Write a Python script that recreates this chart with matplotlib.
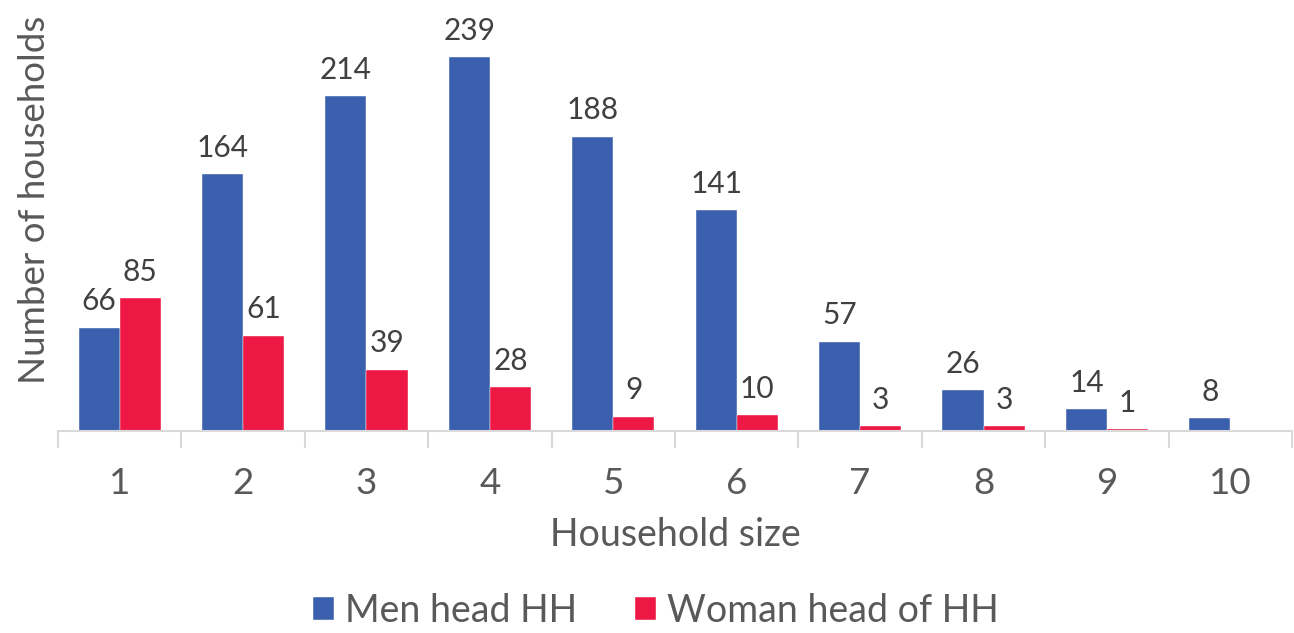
import matplotlib.pyplot as plt
import numpy as np

plt.rcParams['font.family'] = ['Lato', 'DejaVu Sans']

sizes = ['1', '2', '3', '4', '5', '6', '7', '8', '9', '10']
men = [66, 164, 214, 239, 188, 141, 57, 26, 14, 8]
women = [85, 61, 39, 28, 9, 10, 3, 3, 1, 0]

blue = '#3A60AD'
red = '#ED1944'
grey_text = '#595959'

fig = plt.figure(figsize=(12.94, 6.33), dpi=100)
ax = fig.add_axes([0.0448, 0.3191, 0.9537, 0.645])

x = np.arange(len(sizes))
w = 0.333
b1 = ax.bar(x - w / 2, men, w, color=blue, edgecolor='white', linewidth=0.3, label='Men head HH')
b2 = ax.bar(x + w / 2, women, w, color=red, edgecolor='white', linewidth=0.3, label='Woman head of HH')

for rect, v in zip(b1, men):
    ax.text(rect.get_x() + rect.get_width() / 2, v + 8, str(v), ha='center', va='bottom',
            fontsize=21.5, color='#404040')
for rect, v in zip(b2, women):
    if v == 0:
        continue
    ax.text(rect.get_x() + rect.get_width() / 2, v + 8, str(v), ha='center', va='bottom',
            fontsize=21.5, color='#404040')

ax.set_xlim(-0.5, len(sizes) - 0.5)
ax.set_ylim(0, 261)
ax.set_yticks([])
for s in ['top', 'right', 'left']:
    ax.spines[s].set_visible(False)
ax.spines['bottom'].set_color('#D9D9D9')
ax.spines['bottom'].set_linewidth(1.5)

# category separator ticks
ax.set_xticks(np.arange(-0.5, len(sizes)), minor=True)
ax.tick_params(axis='x', which='minor', length=12, width=1.5, color='#D9D9D9')
ax.set_xticks(x)
ax.set_xticklabels(sizes, fontsize=26.5, color=grey_text)
ax.tick_params(axis='x', which='major', length=0, pad=26)

ax.set_xlabel('Household size', fontsize=27, color=grey_text, labelpad=12)
ax.set_ylabel('Number of households', fontsize=26.5, color=grey_text)
ax.yaxis.set_label_coords(-0.006, 0.565)

fig.legend(handles=[b1, b2], loc='lower center', bbox_to_anchor=(0.507, -0.047), ncol=2,
           frameon=False, fontsize=27, labelcolor=grey_text, handlelength=0.55,
           handleheight=0.55, handletextpad=0.3, columnspacing=1.55)

fig.savefig('out.png', dpi=100)
